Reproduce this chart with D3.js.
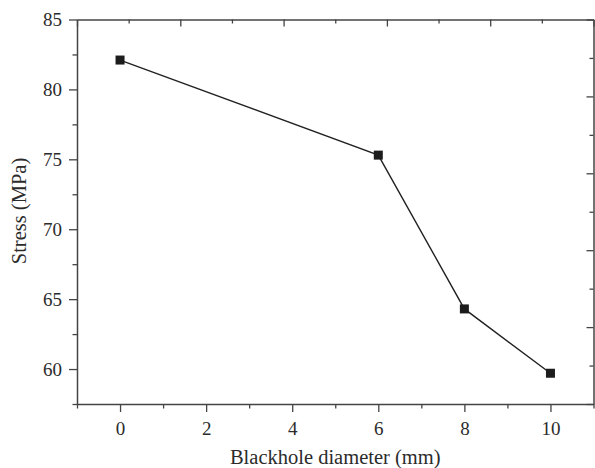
<!DOCTYPE html>
<html>
<head>
<meta charset="utf-8">
<script src="https://cdn.jsdelivr.net/npm/d3@7"></script>
<style>
  body { margin: 0; background: #fff; }
  .tick text { font-family: "Liberation Serif", "DejaVu Serif", serif; font-size: 19px; fill: #2b2b2b; }
  .axis-text { font-family: "Liberation Serif", "DejaVu Serif", serif; font-size: 20.5px; fill: #2b2b2b; }
</style>
</head>
<body>
<div class="chart"></div>
<script>
// data
var diameters = [0, 6, 8, 10];
var stress = [82.1, 75.3, 64.3, 59.7];
var xTicks = [-1, 0, 1, 2, 3, 4, 5, 6, 7, 8, 9, 10, 11];
var xLabels = [0, 2, 4, 6, 8, 10];
var yTicks = [57.5, 60, 62.5, 65, 67.5, 70, 72.5, 75, 77.5, 80, 82.5, 85];
var yLabels = [60, 65, 70, 75, 80, 85];

var svgWidth = 595;
var svgHeight = 468;
var margin = { top: 19.5, right: 1.5, bottom: 64, left: 77 };
var width = svgWidth - margin.left - margin.right;
var height = svgHeight - margin.top - margin.bottom;

var svg = d3.select(".chart")
  .append("svg")
  .attr("width", svgWidth)
  .attr("height", svgHeight)
  .append("g")
  .attr("transform", "translate(" + margin.left + "," + margin.top + ")");

var xScale = d3.scaleLinear().domain([-1, 11]).range([0, width]);
var yScale = d3.scaleLinear().domain([57.5, 85]).range([height, 0]);
// the frame's top and right edges carry their own unlabeled ticks
var frameX = d3.scaleLinear().domain([0, 10]).range([0, width]);
var frameY = d3.scaleLinear().domain([0, 10]).range([0, height]);

function isMajor(v, list) {
  return list.indexOf(v) >= 0;
}

// bottom axis
var bottomAxis = d3.axisBottom(xScale)
  .tickValues(xTicks)
  .tickSizeOuter(0)
  .tickPadding(12)
  .tickFormat(function(d) { return isMajor(d, xLabels) ? d : ""; });

var gx = svg.append("g")
  .attr("class", "x-axis")
  .attr("transform", "translate(0," + height + ")")
  .call(bottomAxis);
gx.selectAll(".tick line")
  .attr("y2", function(d) { return isMajor(d, xLabels) ? 8 : 4.5; });

// left axis
var leftAxis = d3.axisLeft(yScale)
  .tickValues(yTicks)
  .tickSizeOuter(0)
  .tickPadding(9)
  .tickFormat(function(d) { return isMajor(d, yLabels) ? d : ""; });

var gy = svg.append("g")
  .attr("class", "y-axis")
  .call(leftAxis);
gy.selectAll(".tick line")
  .attr("x2", function(d) { return isMajor(d, yLabels) ? -8 : -4.5; });

// top and right frame
var topAxis = d3.axisBottom(frameX).ticks(10).tickSizeOuter(0).tickFormat("");
var gt = svg.append("g").attr("class", "top-axis").call(topAxis);
gt.selectAll(".tick line").attr("y2", function(d) { return d % 2 === 0 ? 7 : 4; });

var rightAxis = d3.axisLeft(frameY).ticks(10).tickSizeOuter(0).tickFormat("");
var gr = svg.append("g").attr("class", "right-axis")
  .attr("transform", "translate(" + width + ",0)")
  .call(rightAxis);
gr.selectAll(".tick line").attr("x2", function(d) { return d % 2 === 0 ? -7 : -4; });

svg.selectAll(".domain").attr("stroke", "#444").attr("stroke-width", 1.5);
svg.selectAll(".tick line").attr("stroke", "#444").attr("stroke-width", 1.3);

// line + markers
var points = diameters.map(function(d, i) { return { x: d, y: stress[i] }; });

var line = d3.line()
  .x(function(d) { return xScale(d.x); })
  .y(function(d) { return yScale(d.y); });

svg.append("path")
  .datum(points)
  .attr("d", line)
  .attr("fill", "none")
  .attr("stroke", "#222")
  .attr("stroke-width", 1.4);

svg.selectAll("rect.marker")
  .data(points)
  .enter()
  .append("rect")
  .attr("class", "marker")
  .attr("x", function(d) { return xScale(d.x) - 4.5; })
  .attr("y", function(d) { return yScale(d.y) - 4.5; })
  .attr("width", 9)
  .attr("height", 9)
  .attr("fill", "#1c1c1c");

// axis titles
svg.append("text")
  .attr("class", "axis-text")
  .attr("text-anchor", "middle")
  .attr("x", width / 2)
  .attr("y", height + 60)
  .text("Blackhole diameter (mm)");

svg.append("text")
  .attr("class", "axis-text")
  .attr("text-anchor", "middle")
  .attr("transform", "translate(" + (-margin.left + 26) + "," + (211 - margin.top) + ") rotate(-90)")
  .text("Stress (MPa)");
</script>
</body>
</html>
